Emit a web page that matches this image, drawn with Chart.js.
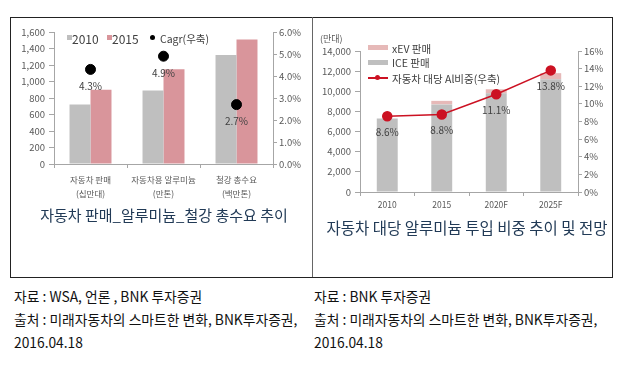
<!DOCTYPE html>
<html><head><meta charset="utf-8">
<script src="https://cdn.jsdelivr.net/npm/chart.js@4/dist/chart.umd.min.js"></script>
<style>
html,body{margin:0;padding:0;background:#fff;width:621px;height:379px;overflow:hidden;font-family:"Noto Sans CJK KR","Noto Sans",sans-serif;}
.abs{position:absolute;}
#box{left:10px;top:17px;width:601px;height:259px;border:1px solid #222;}
#divider{left:312px;top:17px;width:1px;height:260px;background:#666;}
canvas{position:absolute;}
.title{position:absolute;color:#213a56;font-size:15px;white-space:nowrap;transform:translate(-50%,-50%);}
.cap{position:absolute;color:#111;font-size:13.8px;white-space:nowrap;line-height:23px;}
.lg{position:absolute;color:#404040;white-space:nowrap;transform:translateY(-50%);}
.sw{position:absolute;}
</style></head>
<body>
<div id="box" class="abs"></div>
<div id="divider" class="abs"></div>
<canvas id="c1" width="300" height="200" style="left:10px;top:18px;width:300px;height:200px"></canvas>
<canvas id="c2" width="298" height="200" style="left:313px;top:18px;width:298px;height:200px"></canvas>

<!-- left legend -->
<div class="sw" style="left:67px;top:35px;width:5px;height:5px;background:#bfbfbf"></div>
<div class="lg" style="left:72px;top:38px;font-size:12px">2010</div>
<div class="sw" style="left:107px;top:35px;width:5px;height:5px;background:#d9959b"></div>
<div class="lg" style="left:112px;top:38px;font-size:12px">2015</div>
<div class="sw" style="left:150px;top:35px;width:5px;height:5px;border-radius:50%;background:#000"></div>
<div class="lg" style="left:160px;top:38px;font-size:10.5px">Cagr(우축)</div>

<!-- right legend -->
<div class="lg" style="left:320px;top:38px;font-size:9px;color:#595959">(만대)</div>
<div class="sw" style="left:368px;top:45px;width:20px;height:5px;background:#e6b9b8"></div>
<div class="lg" style="left:392px;top:48px;font-size:10.5px">xEV 판매</div>
<div class="sw" style="left:368px;top:60px;width:20px;height:5px;background:#bfbfbf"></div>
<div class="lg" style="left:392px;top:62px;font-size:10.5px">ICE 판매</div>
<div class="sw" style="left:368px;top:77px;width:20px;height:1.5px;background:#cc1122"></div>
<div class="sw" style="left:375px;top:75px;width:5px;height:5px;border-radius:50%;background:#cc1122"></div>
<div class="lg" style="left:392px;top:78px;font-size:10.5px">자동차 대당 Al비중(우축)</div>

<div class="title" style="left:164px;top:214px">자동차 판매_알루미늄_철강 총수요 추이</div>
<div class="title" style="left:467px;top:227px;font-size:15.5px">자동차 대당 알루미늄 투입 비중 추이 및 전망</div>

<div class="cap" style="left:14px;top:285px">자료 : WSA, 언론 , BNK 투자증권<br>출처 : 미래자동차의 스마트한 변화, BNK투자증권,<br>2016.04.18</div>
<div class="cap" style="left:314px;top:285px">자료 : BNK 투자증권<br>출처 : 미래자동차의 스마트한 변화, BNK투자증권,<br>2016.04.18</div>

<script>
// ---- Left chart data ----
const leftCategories = [["자동차 판매","(십만대)"],["자동차용 알루미늄","(만톤)"],["철강 총수요","(백만톤)"]];
const sales2010 = [720, 890, 1320];
const sales2015 = [900, 1150, 1510];
const cagrPct = [4.3, 4.9, 2.7];

// ---- Right chart data ----
const rightCategories = ["2010","2015","2020F","2025F"];
const iceSales = [7300, 8700, 9800, 11200];
const xevSales = [0, 350, 400, 600];
const alSharePct = [8.6, 8.8, 11.1, 13.8];

const FONT = '"Noto Sans CJK KR","Noto Sans",sans-serif';
const TICK_COLOR = '#595959';
const AXIS_COLOR = '#a6a6a6';

const labelPlugin = {
  id: 'pctLabels',
  afterDatasetsDraw(chart, args, opts) {
    const ctx = chart.ctx;
    const meta = chart.getDatasetMeta(opts.datasetIndex);
    const data = chart.data.datasets[opts.datasetIndex].data;
    ctx.save();
    ctx.font = '10px ' + FONT;
    ctx.fillStyle = '#404040';
    ctx.textAlign = 'center';
    ctx.textBaseline = 'middle';
    meta.data.forEach((pt, i) => {
      ctx.fillText(data[i].toFixed(1) + '%', pt.x, pt.y + opts.offset);
    });
    ctx.restore();
  }
};

function fixW(w){ return s => { s.width = w; }; }
function fixH(h){ return s => { s.height = h; }; }

new Chart(document.getElementById('c1'), {
  type: 'bar',
  data: {
    labels: leftCategories,
    datasets: [
      {label:'2010', data: sales2010, backgroundColor:'#bfbfbf', yAxisID:'y', categoryPercentage:0.575, barPercentage:1, order:2},
      {label:'2015', data: sales2015, backgroundColor:'#d9959b', yAxisID:'y', categoryPercentage:0.575, barPercentage:1, order:2},
      {label:'Cagr(우축)', type:'line', data: cagrPct, yAxisID:'y1', showLine:false, pointRadius:5, pointBackgroundColor:'#000', pointBorderColor:'#000', borderColor:'#000', order:1}
    ]
  },
  options: {
    responsive:false, animation:false, devicePixelRatio:1,
    layout:{padding:{top:14,left:0,right:0,bottom:0}},
    plugins:{legend:{display:false}, tooltip:{enabled:false}, pctLabels:{datasetIndex:2, offset:17}},
    scales:{
      x:{
        grid:{display:true, drawOnChartArea:false, tickLength:4, color:AXIS_COLOR, offset:true},
        border:{color:AXIS_COLOR},
        ticks:{color:TICK_COLOR, font:{family:FONT,size:8.5, lineHeight:1.6}, padding:5, autoSkip:false, maxRotation:0},
        afterFit: fixH(54)
      },
      y:{
        position:'left', min:0, max:1600,
        grid:{display:true, drawOnChartArea:false, tickLength:5, color:AXIS_COLOR},
        border:{color:AXIS_COLOR},
        ticks:{stepSize:200, color:TICK_COLOR, font:{family:FONT,size:9.5}, padding:4,
          callback:v=>v.toLocaleString('en-US')},
        afterFit: fixW(44)
      },
      y1:{
        position:'right', min:0, max:6,
        grid:{display:true, drawOnChartArea:false, tickLength:4, color:AXIS_COLOR},
        border:{color:AXIS_COLOR},
        ticks:{stepSize:1, color:TICK_COLOR, font:{family:FONT,size:9.5}, padding:2,
          callback:v=>v.toFixed(1)+'%'},
        afterFit: fixW(37)
      }
    }
  },
  plugins:[labelPlugin]
});

new Chart(document.getElementById('c2'), {
  type: 'bar',
  data: {
    labels: rightCategories,
    datasets: [
      {label:'ICE 판매', data: iceSales, backgroundColor:'#bfbfbf', yAxisID:'y', stack:'s', categoryPercentage:0.8, barPercentage:0.48, order:2},
      {label:'xEV 판매', data: xevSales, backgroundColor:'#e6b9b8', yAxisID:'y', stack:'s', categoryPercentage:0.8, barPercentage:0.48, order:2},
      {label:'자동차 대당 Al비중(우축)', type:'line', data: alSharePct, yAxisID:'y1', borderColor:'#cc1122', borderWidth:1.5, pointRadius:4.5, pointBackgroundColor:'#cc1122', pointBorderColor:'#cc1122', tension:0, order:1}
    ]
  },
  options: {
    responsive:false, animation:false, devicePixelRatio:1,
    layout:{padding:{top:33,left:0,right:0,bottom:0}},
    plugins:{legend:{display:false}, tooltip:{enabled:false}, pctLabels:{datasetIndex:2, offset:16}},
    scales:{
      x:{
        stacked:true,
        grid:{display:true, drawOnChartArea:false, tickLength:4, color:AXIS_COLOR, offset:true},
        border:{color:AXIS_COLOR},
        ticks:{color:TICK_COLOR, font:{family:FONT,size:8.5}, padding:4, autoSkip:false, maxRotation:0},
        afterFit: fixH(26)
      },
      y:{
        stacked:true, position:'left', min:0, max:14000,
        grid:{display:true, drawOnChartArea:false, tickLength:5, color:AXIS_COLOR},
        border:{color:AXIS_COLOR},
        ticks:{stepSize:2000, color:TICK_COLOR, font:{family:FONT,size:9.5}, padding:4,
          callback:v=>v.toLocaleString('en-US')},
        afterFit: fixW(47)
      },
      y1:{
        stacked:false, position:'right', min:0, max:16,
        grid:{display:true, drawOnChartArea:false, tickLength:4, color:AXIS_COLOR},
        border:{color:AXIS_COLOR},
        ticks:{stepSize:2, color:TICK_COLOR, font:{family:FONT,size:9.5}, padding:2,
          callback:v=>v+'%'},
        afterFit: fixW(33)
      }
    }
  },
  plugins:[labelPlugin]
});
</script>
</body></html>
